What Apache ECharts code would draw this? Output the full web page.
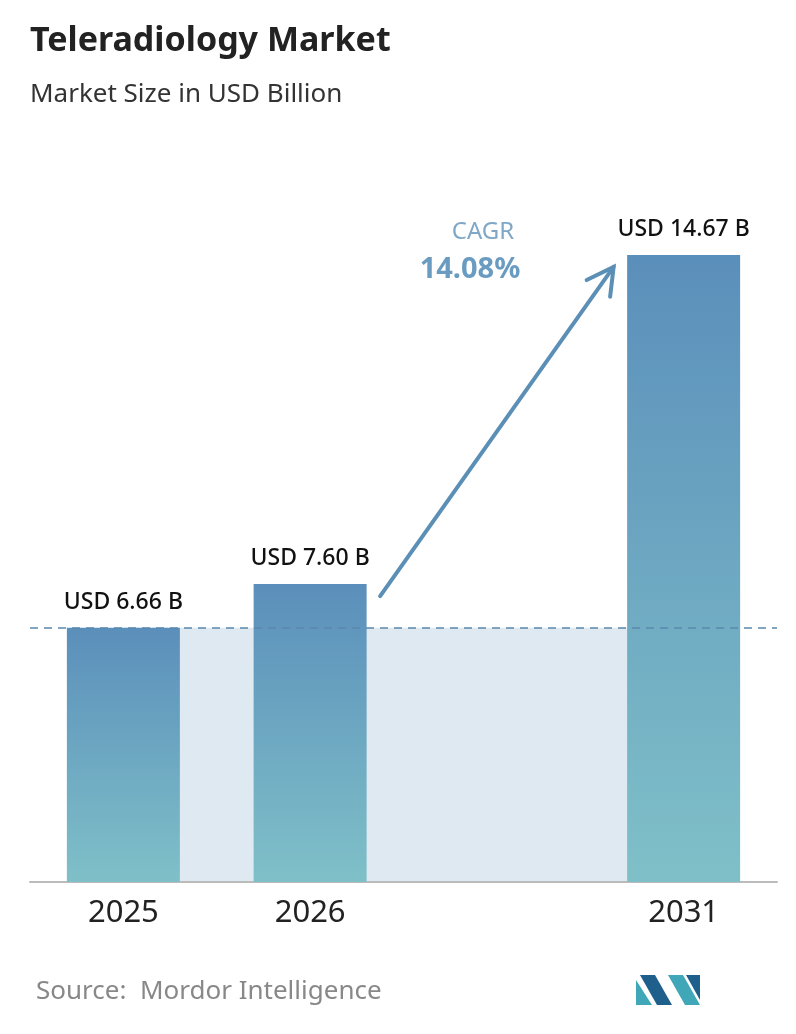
<!DOCTYPE html>
<html><head><meta charset="utf-8">
<script src="https://cdn.jsdelivr.net/npm/echarts@6/dist/echarts.min.js"></script>
<style>html,body{margin:0;background:#fff}#main{width:796px;height:1034px}</style>
</head><body><div id="main"></div>
<script>
var years = ['2025', '2026', '', '2031'];
var values = [6.66, 7.60, null, 14.67];
var labels = ['USD 6.66 B', 'USD 7.60 B', '', 'USD 14.67 B'];
var cagr = '14.08%';

var myChart = echarts.init(document.getElementById('main'));
var font = 'Noto Sans';

myChart.setOption({
    animation: false,
    grid: { left: 30, right: 19, top: 193, bottom: 152 },
    xAxis: {
        type: 'category', data: years,
        axisLine: { lineStyle: { color: '#bbb', width: 2 } },
        axisTick: { show: false },
        axisLabel: { fontSize: 31, color: '#222', fontFamily: font, margin: 16 }
    },
    yAxis: { type: 'value', min: 1.2, max: 16, show: false },
    series: [{
        type: 'bar', data: values, barWidth: 113, z: 3,
        itemStyle: {
            color: new echarts.graphic.LinearGradient(0, 0, 0, 1, [
                { offset: 0, color: '#5b8fbb' }, { offset: 1, color: '#7fc0c8' }])
        },
        label: {
            show: true, position: 'top', distance: 14, fontSize: 23, fontWeight: 500, color: '#111', fontFamily: font,
            formatter: function (p) { return labels[p.dataIndex]; }
        },
        markLine: {
            silent: true, symbol: 'none', label: { show: false },
            lineStyle: { color: '#5a88ad', type: [8, 6], width: 1.5 },
            data: [{ yAxis: values[0] }]
        }
    }]
});

// shaded band between the bars, up to the first bar's value
var p0 = myChart.convertToPixel({ seriesIndex: 0 }, [0, values[0]]);
var p3 = myChart.convertToPixel({ seriesIndex: 0 }, [3, 1.2]);
// arrow from the 2026 bar to the 2031 bar
var a = myChart.convertToPixel({ seriesIndex: 0 }, [1, values[1]]);
var b = myChart.convertToPixel({ seriesIndex: 0 }, [3, values[3]]);
var x1 = a[0] + 70, y1 = a[1] + 12, x2 = b[0] - 70, y2 = b[1] + 12;
var ang = Math.atan2(y2 - y1, x2 - x1), h = 30;
var arrowStyle = { stroke: '#5b8fb5', lineWidth: 4, lineCap: 'round' };
myChart.setOption({
    graphic: [
        { type: 'rect', z: -1, shape: { x: p0[0], y: p0[1], width: p3[0] - p0[0], height: p3[1] - p0[1] }, style: { fill: '#dfe9f1' } },
        { type: 'text', left: 30, top: 24, style: { text: 'Teleradiology Market', fontSize: 34, fontWeight: 'bold', fill: '#222', fontFamily: font } },
        { type: 'text', left: 30, top: 82, style: { text: 'Market Size in USD Billion', fontSize: 26, fill: '#333', fontFamily: font } },
        { type: 'line', shape: { x1: x1, y1: y1, x2: x2, y2: y2 }, style: arrowStyle },
        { type: 'polyline', shape: { points: [
            [x2 - h * Math.cos(ang - 0.5), y2 - h * Math.sin(ang - 0.5)], [x2, y2],
            [x2 - h * Math.cos(ang + 0.5), y2 - h * Math.sin(ang + 0.5)]] }, style: arrowStyle },
        { type: 'text', x: 483, y: 232, style: { text: 'CAGR', fontSize: 24, fill: '#7fa7c7', align: 'center', verticalAlign: 'middle', fontFamily: font } },
        { type: 'text', x: 470, y: 270, style: { text: cagr, fontSize: 29, fontWeight: 'bold', fill: '#6a9bc0', align: 'center', verticalAlign: 'middle', fontFamily: font } },
        { type: 'text', left: 36, top: 979, style: { text: 'Source:  Mordor Intelligence', fontSize: 26, fill: '#888', fontFamily: font } },
        { type: 'polygon', shape: { points: [[636, 1005], [636, 980], [652, 1005]] }, style: { fill: '#3fa7b8' } },
        { type: 'polygon', shape: { points: [[640, 975], [655, 975], [672, 1005], [657, 1005]] }, style: { fill: '#1f5f8b' } },
        { type: 'polygon', shape: { points: [[668, 975], [683, 975], [700, 1005], [685, 1005]] }, style: { fill: '#3fa7b8' } },
        { type: 'polygon', shape: { points: [[686, 975], [700, 975], [700, 1000]] }, style: { fill: '#1f5f8b' } }
    ]
});
</script></body></html>
